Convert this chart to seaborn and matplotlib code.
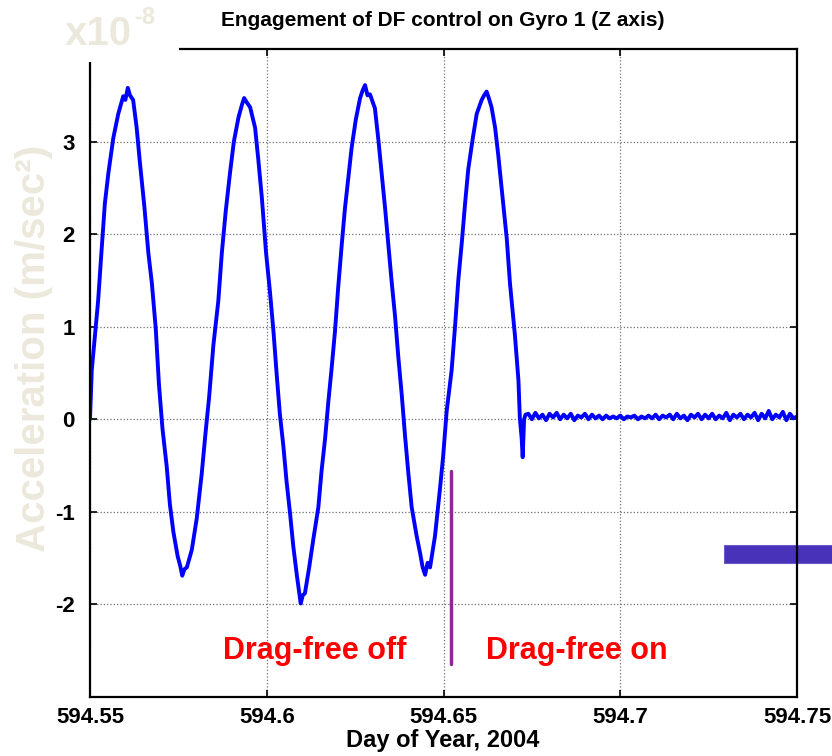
import numpy as np
import pandas as pd
import matplotlib
matplotlib.use('Agg')
import matplotlib.pyplot as plt
from matplotlib import font_manager
from matplotlib.patches import Rectangle
import seaborn as sns

# Gyro 1 Z-axis acceleration (x1e-8 m/sec^2).
# Before drag-free engagement: orbit-rate oscillation.
day_off = [594.5500, 594.5505, 594.5514, 594.5523, 594.5531, 594.5542, 594.5552,
           594.5566, 594.5580, 594.5594, 594.5600, 594.5607, 594.5613, 594.5622,
           594.5632, 594.5641, 594.5654, 594.5665, 594.5675, 594.5686, 594.5695,
           594.5705, 594.5717, 594.5726, 594.5736, 594.5748, 594.5755, 594.5761,
           594.5767, 594.5774, 594.5788, 594.5802, 594.5816, 594.5827, 594.5837,
           594.5849, 594.5863, 594.5873, 594.5884, 594.5896, 594.5907, 594.5920,
           594.5930, 594.5936, 594.5944, 594.5953, 594.5967, 594.5976, 594.5986,
           594.5998, 594.6009, 594.6019, 594.6028, 594.6037, 594.6047, 594.6056,
           594.6066, 594.6075, 594.6085, 594.6091, 594.6096, 594.6102, 594.6108,
           594.6120, 594.6132, 594.6146, 594.6155, 594.6165, 594.6174, 594.6184,
           594.6193, 594.6202, 594.6212, 594.6221, 594.6231, 594.6240, 594.6252,
           594.6264, 594.6271, 594.6278, 594.6285, 594.6292, 594.6306, 594.6316,
           594.6325, 594.6335, 594.6344, 594.6353, 594.6363, 594.6372, 594.6382,
           594.6391, 594.6400, 594.6410, 594.6424, 594.6434, 594.6441, 594.6448,
           594.6455, 594.6462, 594.6476, 594.6490, 594.6499, 594.6509, 594.6523,
           594.6533, 594.6542, 594.6552, 594.6561, 594.6570, 594.6583, 594.6594,
           594.6608, 594.6615, 594.6622, 594.6629, 594.6636, 594.6646, 594.6655,
           594.6667, 594.6679, 594.6688, 594.6702, 594.6712, 594.6716, 594.6721,
           594.6724, 594.6728, 594.6732]
acc_off = [0.00, 0.53, 0.91, 1.28, 1.73, 2.33, 2.66,
           3.04, 3.30, 3.49, 3.45, 3.58, 3.50, 3.45,
           3.15, 2.78, 2.29, 1.80, 1.47, 0.98, 0.38,
           -0.10, -0.51, -0.92, -1.22, -1.48, -1.58, -1.69,
           -1.62, -1.60, -1.41, -1.07, -0.59, -0.14, 0.24,
           0.80, 1.28, 1.80, 2.25, 2.66, 3.00, 3.26,
           3.40, 3.47, 3.42, 3.37, 3.15, 2.81, 2.40,
           1.80, 1.38, 0.95, 0.49, 0.06, -0.29, -0.67,
           -1.02, -1.37, -1.68, -1.85, -1.99, -1.90, -1.88,
           -1.60, -1.29, -0.95, -0.56, -0.21, 0.18, 0.57,
           0.95, 1.42, 1.88, 2.27, 2.62, 2.93, 3.24,
           3.47, 3.55, 3.61, 3.50, 3.51, 3.36, 3.01,
           2.66, 2.27, 1.88, 1.50, 1.11, 0.68, 0.26,
           -0.17, -0.56, -0.95, -1.26, -1.45, -1.60, -1.68,
           -1.55, -1.60, -1.26, -0.75, -0.40, 0.09, 0.53,
           1.02, 1.51, 1.92, 2.33, 2.70, 3.04, 3.30,
           3.45, 3.50, 3.54, 3.46, 3.37, 3.15, 2.85,
           2.40, 1.95, 1.47, 0.91, 0.42, 0.01, -0.20,
           -0.41, 0.00, 0.05]

# After drag-free engagement: residual noise around zero.
day_on = [594.674, 594.675, 594.676, 594.677, 594.678, 594.679, 594.680, 594.681,
          594.682, 594.683, 594.684, 594.685, 594.686, 594.687, 594.688, 594.689,
          594.690, 594.691, 594.692, 594.693, 594.694, 594.695, 594.696, 594.697,
          594.698, 594.699, 594.700, 594.701, 594.702, 594.703, 594.704, 594.705,
          594.706, 594.707, 594.708, 594.709, 594.710, 594.711, 594.712, 594.713,
          594.714, 594.715, 594.716, 594.717, 594.718, 594.719, 594.720, 594.721,
          594.722, 594.723, 594.724, 594.725, 594.726, 594.727, 594.728, 594.729,
          594.730, 594.731, 594.732, 594.733, 594.734, 594.735, 594.736, 594.737,
          594.738, 594.739, 594.740, 594.741, 594.742, 594.743, 594.744, 594.745,
          594.746, 594.747, 594.748, 594.749, 594.750]
acc_on = [0.06, 0.00, 0.07, 0.01, 0.05, -0.01, 0.06, 0.02, 0.07, 0.00,
          0.05, 0.01, 0.06, -0.01, 0.04, 0.02, 0.06, 0.00, 0.05, 0.01,
          0.04, 0.00, 0.04, 0.01, 0.03, 0.01, 0.04, 0.00, 0.03, 0.02,
          0.04, 0.00, 0.03, 0.01, 0.04, 0.01, 0.05, 0.00, 0.04, 0.02,
          0.05, 0.00, 0.06, 0.01, 0.04, -0.01, 0.05, 0.02, 0.06, 0.00,
          0.05, 0.01, 0.06, 0.00, 0.04, 0.01, 0.07, -0.01, 0.05, 0.02,
          0.06, 0.00, 0.05, 0.02, 0.07, -0.01, 0.06, 0.01, 0.09, 0.00,
          0.05, 0.02, 0.08, -0.01, 0.06, 0.01, 0.03]

switch_day = 594.6521
switch_top, switch_bottom = -0.56, -2.64
x_ticks = [594.55, 594.6, 594.65, 594.7, 594.75]
x_labels = ['594.55', '594.6', '594.65', '594.7', '594.75']
y_ticks = [-2, -1, 0, 1, 2, 3]

BEIGE = '#ECE9DC'

# Style setup.
sns.set_style('ticks')
plt.rcParams['font.family'] = ['Liberation Sans', 'DejaVu Sans']
plt.rcParams['axes.unicode_minus'] = False
plt.rcParams['text.color'] = 'black'
installed = {f.name for f in font_manager.fontManager.ttflist}
narrow = 'Liberation Sans Narrow' if 'Liberation Sans Narrow' in installed else 'Liberation Sans'

fig = plt.figure(figsize=(8.32, 7.56), dpi=100)
ax = fig.add_axes([90 / 832, 1 - 697 / 756, 707 / 832, 648 / 756])

# Curve.
df = pd.DataFrame({'day': day_off + day_on, 'acc': acc_off + acc_on})
sns.lineplot(data=df, x='day', y='acc', ax=ax, color='#0000ff',
             linewidth=2.8, estimator=None, sort=False)

# Drag-free switch marker and labels.
ax.plot([switch_day, switch_day], [switch_top, switch_bottom],
        color='#8E2A8F', linewidth=2.5)
ax.text(594.6135, -2.585, 'Drag-free off', color='#ff0000', fontsize=22,
        fontweight='bold', ha='center', va='baseline')
ax.text(594.6878, -2.585, 'Drag-free on', color='#ff0000', fontsize=22,
        fontweight='bold', ha='center', va='baseline')

# Axes setup.
ax.set_xlim(594.55, 594.75)
ax.set_ylim(-3, 4)
ax.set_xticks(x_ticks)
ax.set_xticklabels(x_labels)
ax.set_yticks(y_ticks)
ax.set_yticklabels([str(v) for v in y_ticks])
ax.set_xlabel('')
ax.set_ylabel('')
ax.grid(True, color='#707070', linestyle=':', linewidth=0.9)
ax.tick_params(direction='in', length=5, width=1.2, top=True, right=True,
               labelsize=16, colors='black')
ax.tick_params(axis='y', pad=11)
ax.tick_params(axis='x', pad=7)
for lbl in ax.get_xticklabels() + ax.get_yticklabels():
  lbl.set_fontweight('bold')
  lbl.set_family(narrow)
for s in ax.spines.values():
  s.set_visible(True)
  s.set_color('black')
  s.set_linewidth(1.6)

# Blue bar sticking out on the right, below the spine.
ax.add_patch(Rectangle((724 / 832, 1 - 563 / 756), 120 / 832, 18 / 756,
                       transform=fig.transFigure, clip_on=False, zorder=2,
                       facecolor='#4832B9', edgecolor='#6A5CC8', linewidth=0.8))

# White patch hiding the top-left corner of the frame.
fig.add_artist(Rectangle((0, 1 - 62 / 756), 179 / 832, 62 / 756,
                         transform=fig.transFigure, facecolor='white',
                         edgecolor='none', zorder=3))

# Faded exponent and y label.
fig.text(65 / 832, 1 - 45 / 756, 'x10', color=BEIGE, fontsize=29,
         fontweight='bold', ha='left', va='baseline', zorder=4)
fig.text(134 / 832, 1 - 24 / 756, '-8', color=BEIGE, fontsize=17,
         fontweight='bold', ha='left', va='baseline', zorder=4)
fig.text(34 / 832, 1 - 348 / 756, 'Acceleration (m/sec\u00b2)', color=BEIGE,
         fontsize=29, fontweight='bold', rotation=90, ha='center', va='center')

# Title and x label.
fig.text(443 / 832, 1 - 20 / 756, 'Engagement of DF control on Gyro 1 (Z axis)',
         fontsize=15, fontweight='bold', ha='center', va='center', color='black')
fig.text(443 / 832, 1 - 741 / 756, 'Day of Year, 2004', fontsize=17,
         fontweight='bold', family=narrow, ha='center', va='center', color='black')

fig.savefig('out.png', dpi=100)
